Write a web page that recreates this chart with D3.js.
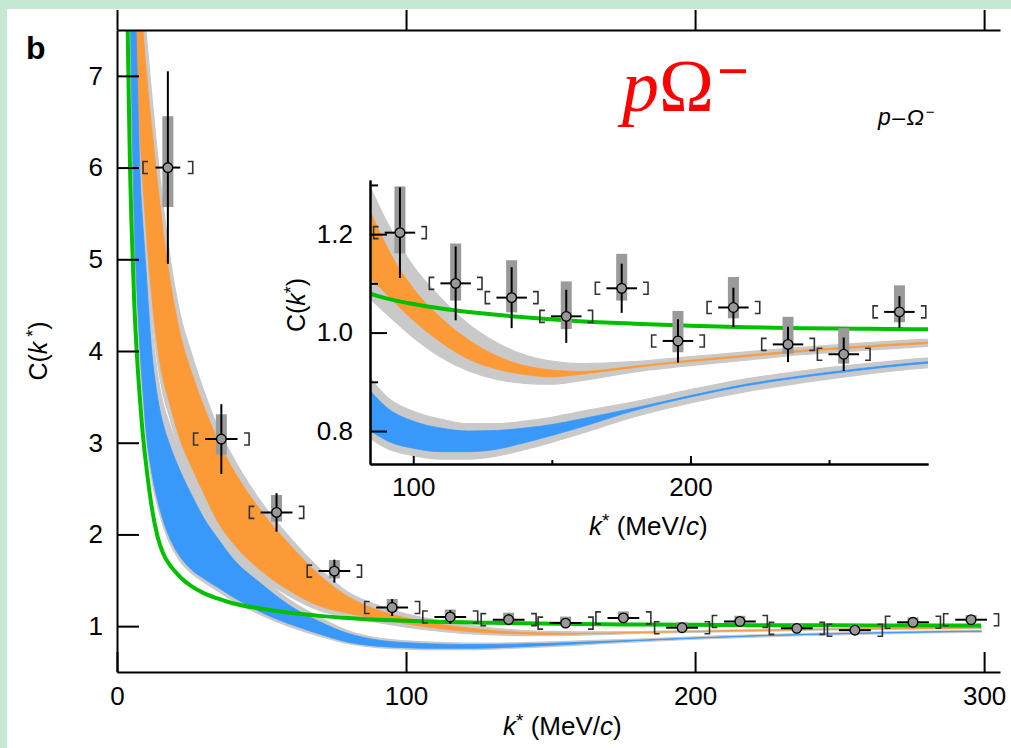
<!DOCTYPE html>
<html>
<head>
<meta charset="utf-8">
<script src="https://cdn.jsdelivr.net/npm/d3@7"></script>
<style>
  body { margin: 0; background: #fff; }
  text { font-family: "Liberation Sans", Arial, Helvetica, sans-serif; }
</style>
</head>
<body>
<svg id="chart" width="1011" height="748"></svg>
<script>
// measured p-Omega correlation points
const kStar    = [17.6, 36.1, 55.2, 75.2, 95.2, 115.3, 135.5, 155.2, 175.2, 195.5, 215.5, 235.2, 255.3, 275.4, 295.5];
const cVal     = [6.0, 3.04, 2.24, 1.60, 1.203, 1.10, 1.071, 1.033, 1.09, 0.983, 1.051, 0.976, 0.956, 1.042, 1.07];
const statErr  = [1.05, 0.38, 0.21, 0.125, 0.092, 0.075, 0.062, 0.054, 0.05, 0.044, 0.04, 0.036, 0.034, 0.032, 0.03];
const systUp   = [0.56, 0.27, 0.19, 0.12, 0.094, 0.081, 0.076, 0.071, 0.07, 0.061, 0.062, 0.056, 0.053, 0.054, 0.05];
const systDown = [0.43, 0.17, 0.10, 0.08, 0.042, 0.035, 0.03, 0.026, 0.025, 0.023, 0.022, 0.019, 0.019, 0.021, 0.02];
const kErr     = [4.3, 5.6, 5.5, 5.5, 5.5, 5.5, 5.5, 5.5, 5.5, 5.5, 5.5, 5.5, 5.5, 5.5, 5.5];
const kBin     = [8.6, 9.6, 9.4, 9.4, 9.5, 9.5, 9.5, 9.5, 9.5, 9.5, 9.5, 9.5, 9.5, 9.5, 9.5];

// model bands, read at these k* values
const kGrid = [4, 5, 6, 7, 8, 9, 10, 12, 14, 16, 18, 20, 22, 26, 30, 35, 40, 50, 60, 70, 80, 90, 100,
  110, 120, 130, 140, 150, 160, 180, 200, 220, 240, 260, 280, 299];
const orangeLo = [11, 9.0, 7.7, 7.0, 6.3, 5.8, 5.35, 4.6, 4.05, 3.68, 3.45, 3.22, 3.02, 2.72, 2.45, 2.13, 1.91, 1.6, 1.38, 1.22, 1.14, 1.08, 1.025,
  0.98, 0.946, 0.926, 0.915, 0.91, 0.915, 0.929, 0.941, 0.951, 0.961, 0.969, 0.976, 0.981];
const orangeHi = [12.5, 10.5, 9.5, 8.8, 8.1, 7.5, 7.1, 6.45, 5.85, 5.3, 4.85, 4.47, 4.17, 3.75, 3.4, 3.02, 2.72, 2.25, 1.88, 1.56, 1.32, 1.18, 1.09,
  1.03, 0.985, 0.953, 0.933, 0.924, 0.921, 0.932, 0.944, 0.954, 0.964, 0.972, 0.979, 0.984];
const orangeGreyLo = [10.7, 8.7, 7.4, 6.7, 6.0, 5.5, 5.1, 4.4, 3.88, 3.52, 3.3, 3.08, 2.88, 2.6, 2.34, 2.04, 1.83, 1.53, 1.32, 1.17, 1.095, 1.04, 0.99,
  0.95, 0.922, 0.905, 0.897, 0.895, 0.902, 0.92, 0.933, 0.944, 0.955, 0.963, 0.97, 0.976];
const orangeGreyHi = [13, 11, 9.9, 9.3, 8.5, 7.9, 7.5, 6.8, 6.15, 5.58, 5.1, 4.7, 4.38, 3.95, 3.57, 3.16, 2.85, 2.35, 1.96, 1.63, 1.37, 1.23, 1.135,
  1.07, 1.017, 0.98, 0.955, 0.942, 0.937, 0.941, 0.951, 0.961, 0.97, 0.978, 0.985, 0.99];
const blueLo = [9.0, 6.9, 5.4, 4.6, 4.0, 3.55, 3.15, 2.68, 2.38, 2.15, 1.98, 1.85, 1.75, 1.61, 1.52, 1.42, 1.32, 1.15, 1.02, 0.915, 0.825, 0.782, 0.765,
  0.758, 0.758, 0.763, 0.776, 0.791, 0.807, 0.842, 0.869, 0.892, 0.909, 0.923, 0.935, 0.944];
const blueHi = [12, 9.8, 8.3, 7.0, 5.9, 5.35, 4.9, 4.0, 3.5, 3.2, 3.0, 2.83, 2.68, 2.42, 2.18, 1.95, 1.74, 1.46, 1.22, 1.05, 0.92, 0.85, 0.82,
  0.806, 0.8, 0.801, 0.806, 0.813, 0.824, 0.847, 0.872, 0.895, 0.912, 0.926, 0.938, 0.947];
const blueGreyLo = [8.6, 6.6, 5.2, 4.45, 3.88, 3.45, 3.06, 2.6, 2.31, 2.09, 1.92, 1.8, 1.7, 1.57, 1.48, 1.38, 1.28, 1.12, 0.99, 0.89, 0.808, 0.766, 0.75,
  0.743, 0.743, 0.749, 0.762, 0.777, 0.794, 0.829, 0.857, 0.88, 0.898, 0.913, 0.926, 0.935];
const blueGreyHi = [12.5, 10.3, 8.8, 7.5, 6.4, 5.75, 5.25, 4.3, 3.75, 3.42, 3.22, 3.04, 2.87, 2.58, 2.32, 2.07, 1.84, 1.53, 1.28, 1.1, 0.95, 0.872, 0.84,
  0.824, 0.815, 0.815, 0.82, 0.828, 0.839, 0.86, 0.884, 0.906, 0.922, 0.935, 0.946, 0.955];

// green model curve
const greenK = [3.5, 4, 4.5, 5, 6, 7, 8, 9, 10, 12, 14, 16, 18, 20, 22, 26, 30, 35, 40, 50, 60, 70, 80, 90, 100,
  110, 120, 130, 140, 160, 180, 200, 220, 240, 260, 280, 299];
const greenC = [7.9, 6.9, 6.0, 5.4, 4.5, 3.9, 3.45, 3.07, 2.78, 2.3, 1.98, 1.79, 1.68, 1.6, 1.53, 1.43, 1.36, 1.3, 1.25, 1.19, 1.145, 1.112, 1.088, 1.07, 1.058,
  1.049, 1.042, 1.036, 1.031, 1.023, 1.018, 1.014, 1.011, 1.009, 1.008, 1.007, 1.006];

const mainTicksX = [0, 100, 200, 300];
const mainTicksY = [1, 2, 3, 4, 5, 6, 7];
const insetTicksX = [100, 200];
const insetMinorX = [150, 250];
const insetTicksY = [0.8, 1.0, 1.2];
const insetMinorY = [0.9, 1.1, 1.3];

const svg = d3.select("#chart");
const FONT = '"Liberation Sans", Arial, Helvetica, sans-serif';

// page background with the green strip
svg.append("rect").attr("width", 1011).attr("height", 748).attr("fill", "#c4e8d4");
svg.append("rect").attr("x", 7).attr("y", 9).attr("width", 1004).attr("height", 739).attr("fill", "#fff");

// scales
const x = d3.scaleLinear().domain([0, 305.5]).range([117, 1000]);
const y = d3.scaleLinear().domain([0.5, 7.5]).range([672, 30]);
const xi = d3.scaleLinear().domain([84.4, 285.7]).range([370, 928]);
const yi = d3.scaleLinear().domain([0.733, 1.31]).range([464, 180]);

const defs = svg.append("defs");
defs.append("clipPath").attr("id", "clipMain").append("rect")
  .attr("x", 117).attr("y", 30).attr("width", 883).attr("height", 642);
defs.append("clipPath").attr("id", "clipInset").append("rect")
  .attr("x", 370).attr("y", 180).attr("width", 558).attr("height", 284);

function drawModels(g, xs, ys, greenWidth) {
  const band = (lo, hi) => d3.area()
    .x((d, i) => xs(kGrid[i]))
    .y0((d, i) => ys(lo[i]))
    .y1((d, i) => ys(hi[i]))
    .curve(d3.curveMonotoneX)(kGrid);

  g.append("path").attr("d", band(orangeGreyLo, orangeGreyHi))
    .attr("fill", "#c9c9c9").attr("stroke", "#c9c9c9").attr("stroke-width", 1.2);
  g.append("path").attr("d", band(blueGreyLo, blueGreyHi))
    .attr("fill", "#c9c9c9").attr("stroke", "#c9c9c9").attr("stroke-width", 1.2);
  g.append("path").attr("d", band(orangeLo, orangeHi))
    .attr("fill", "#fd9a38").attr("stroke", "#fd9a38").attr("stroke-width", 0.8);
  g.append("path").attr("d", band(blueLo, blueHi))
    .attr("fill", "#3899fb").attr("stroke", "#3899fb").attr("stroke-width", 0.8);

  const line = d3.line()
    .x((d, i) => xs(greenK[i]))
    .y((d, i) => ys(greenC[i]))
    .curve(d3.curveMonotoneX);
  g.append("path").attr("d", line(greenK))
    .attr("fill", "none").attr("stroke", "#00c000").attr("stroke-width", greenWidth);
}

function drawPoints(g, xs, ys, idx) {
  const pts = g.selectAll("g.pt").data(idx).join("g").attr("class", "pt");

  // systematic boxes
  pts.append("rect")
    .attr("x", i => xs(kStar[i]) - 5.5)
    .attr("width", 11)
    .attr("y", i => ys(cVal[i] + systUp[i]))
    .attr("height", i => ys(cVal[i] - systDown[i]) - ys(cVal[i] + systUp[i]))
    .attr("fill", "#9a9a9a");

  // bin brackets
  pts.append("path")
    .attr("d", i => {
      const xl = xs(kStar[i] - kBin[i]), xr = xs(kStar[i] + kBin[i]), yc = ys(cVal[i]);
      return `M${xl + 5},${yc - 6}H${xl}V${yc + 6}H${xl + 5}M${xr - 5},${yc - 6}H${xr}V${yc + 6}H${xr - 5}`;
    })
    .attr("fill", "none").attr("stroke", "#333").attr("stroke-width", 1.6);

  // stat error bars
  pts.append("line")
    .attr("x1", i => xs(kStar[i])).attr("x2", i => xs(kStar[i]))
    .attr("y1", i => ys(cVal[i] + statErr[i])).attr("y2", i => ys(cVal[i] - statErr[i]))
    .attr("stroke", "#000").attr("stroke-width", 2);
  pts.append("line")
    .attr("x1", i => xs(kStar[i] - kErr[i])).attr("x2", i => xs(kStar[i] + kErr[i]))
    .attr("y1", i => ys(cVal[i])).attr("y2", i => ys(cVal[i]))
    .attr("stroke", "#000").attr("stroke-width", 2);

  pts.append("circle")
    .attr("cx", i => xs(kStar[i])).attr("cy", i => ys(cVal[i]))
    .attr("r", 4.8)
    .attr("fill", "#999").attr("stroke", "#000").attr("stroke-width", 1.3);
}

function styleAxis(g, size) {
  g.attr("font-family", FONT).attr("font-size", size);
  g.selectAll("path, line").attr("stroke", "#000").attr("stroke-width", 2);
  g.selectAll("text").attr("fill", "#000");
}

function kLabel(t) {
  t.append("tspan").style("font-style", "italic").text("k");
  t.append("tspan").attr("dy", -8).style("font-size", "19px").text("*");
  t.append("tspan").attr("dy", 8).text(" (MeV/");
  t.append("tspan").style("font-style", "italic").text("c");
  t.append("tspan").text(")");
}

// ---- main panel ----
const main = svg.append("g");
drawModels(main.append("g").attr("clip-path", "url(#clipMain)"), x, y, 4);
drawPoints(main.append("g"), x, y, d3.range(kStar.length));

main.append("g")
  .attr("transform", "translate(0,672)")
  .call(d3.axisBottom(x).tickValues(mainTicksX).tickSize(-20).tickSizeOuter(0).tickPadding(15).tickFormat(d3.format("d")))
  .call(g => styleAxis(g, 26));

main.append("g")
  .attr("transform", "translate(0,30)")
  .call(d3.axisTop(x).tickValues(mainTicksX).tickSize(20).tickSizeOuter(0).tickFormat(""))
  .call(g => styleAxis(g, 26));

main.append("g")
  .attr("transform", "translate(117,0)")
  .call(d3.axisLeft(y).tickValues(mainTicksY).tickSize(-22).tickSizeOuter(0).tickPadding(14).tickFormat(d3.format("d")))
  .call(g => styleAxis(g, 26));

// axis titles
main.append("text")
  .attr("x", 503).attr("y", 735)
  .style("font-size", "26px")
  .call(kLabel);

main.append("text")
  .attr("transform", "translate(47,351) rotate(-90)")
  .attr("text-anchor", "middle")
  .style("font-size", "25px")
  .call(t => {
    t.append("tspan").text("C(");
    t.append("tspan").style("font-style", "italic").text("k");
    t.append("tspan").attr("dy", -8).style("font-size", "18px").text(" *");
    t.append("tspan").attr("dy", 8).text(")");
  });

// panel letter
svg.append("text")
  .attr("x", 26).attr("y", 59)
  .style("font-size", "32px").style("font-weight", "bold")
  .text("b");

// big red title
svg.append("text")
  .attr("x", 622).attr("y", 111)
  .style("font-family", '"Liberation Serif", "Times New Roman", serif')
  .style("font-size", "74px")
  .attr("fill", "#ff0000")
  .call(t => {
    t.append("tspan").style("font-style", "italic").text("p");
    t.append("tspan").text("Ω");
    t.append("tspan").attr("dx", 3).attr("dy", -21).style("font-size", "56px").style("font-weight", "bold").text("−");
  });

// small system label
svg.append("text")
  .attr("x", 878).attr("y", 125)
  .style("font-size", "23px").style("font-style", "italic")
  .style("letter-spacing", "1.5px")
  .call(t => {
    t.append("tspan").text("p–Ω");
    t.append("tspan").attr("dy", -8).style("font-size", "15px").text("−");
  });

// ---- inset ----
const inset = svg.append("g");
drawModels(inset.append("g").attr("clip-path", "url(#clipInset)"), xi, yi, 4);
drawPoints(inset.append("g"), xi, yi, d3.range(4, 14));

inset.append("g")
  .attr("transform", "translate(0,464)")
  .call(d3.axisBottom(xi).tickValues(insetTicksX).tickSize(-8).tickSizeOuter(0).tickPadding(14).tickFormat(d3.format("d")))
  .call(g => styleAxis(g, 26));
inset.append("g")
  .attr("transform", "translate(0,464)")
  .call(d3.axisBottom(xi).tickValues(insetMinorX).tickSize(-4).tickSizeOuter(0).tickFormat(""))
  .call(g => styleAxis(g, 26));

inset.append("g")
  .attr("transform", "translate(370,0)")
  .call(d3.axisLeft(yi).tickValues(insetTicksY).tickSize(-17).tickSizeOuter(0).tickPadding(17).tickFormat(d3.format(".1f")))
  .call(g => styleAxis(g, 26));
inset.append("g")
  .attr("transform", "translate(370,0)")
  .call(d3.axisLeft(yi).tickValues(insetMinorY).tickSize(-8).tickSizeOuter(0).tickFormat(""))
  .call(g => styleAxis(g, 26));

inset.append("text")
  .attr("x", 589).attr("y", 535)
  .style("font-size", "26px")
  .call(kLabel);

inset.append("text")
  .attr("transform", "translate(305,305) rotate(-90)")
  .attr("text-anchor", "middle")
  .style("font-size", "25px")
  .call(t => {
    t.append("tspan").text("C(");
    t.append("tspan").style("font-style", "italic").text("k");
    t.append("tspan").attr("dy", -8).style("font-size", "18px").text("*");
    t.append("tspan").attr("dy", 8).text(")");
  });
</script>
</body>
</html>
